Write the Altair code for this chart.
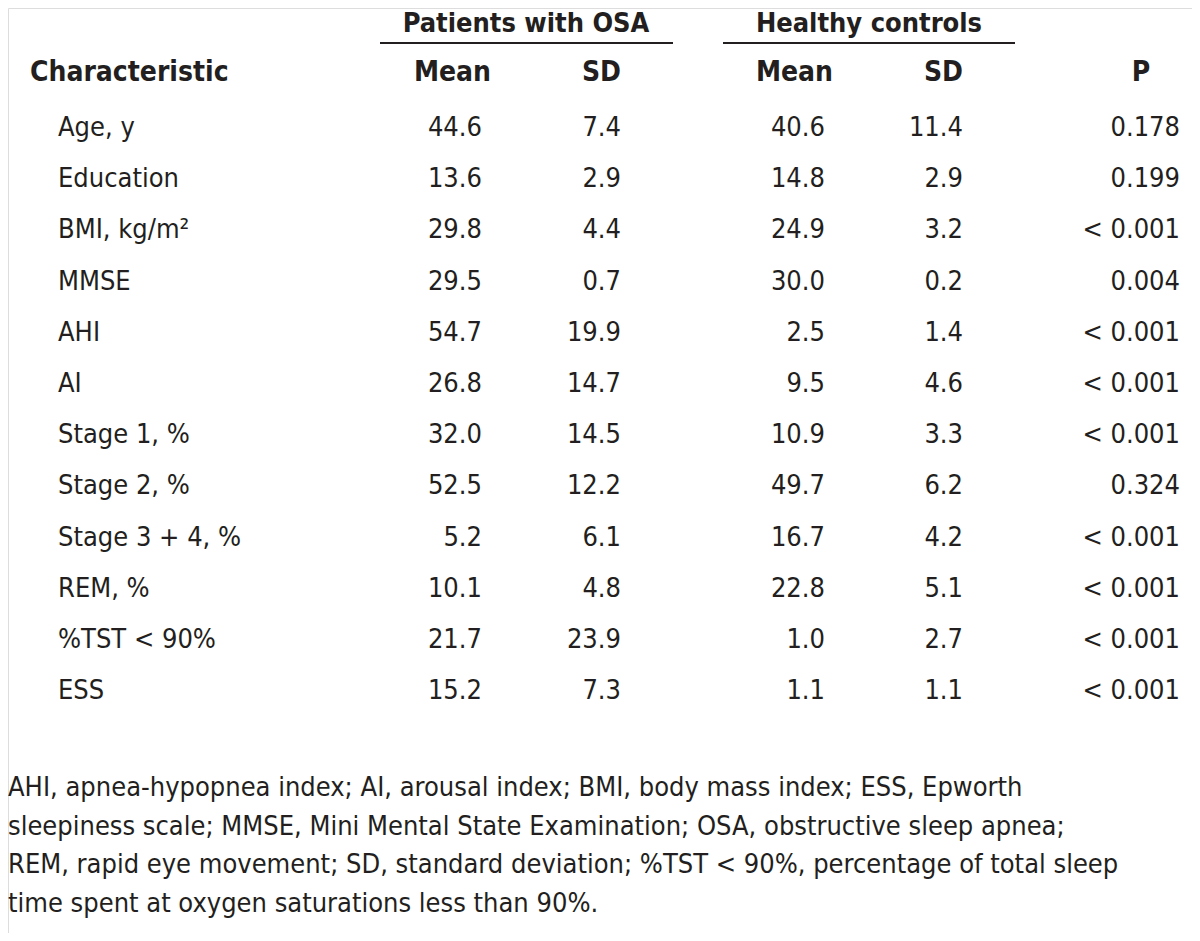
import altair as alt
import pandas as pd

characteristics = ["Age, y", "Education", "BMI, kg/m²", "MMSE", "AHI", "AI",
                   "Stage 1, %", "Stage 2, %", "Stage 3 + 4, %", "REM, %",
                   "%TST < 90%", "ESS"]
osa_mean = ["44.6", "13.6", "29.8", "29.5", "54.7", "26.8", "32.0", "52.5", "5.2", "10.1", "21.7", "15.2"]
osa_sd = ["7.4", "2.9", "4.4", "0.7", "19.9", "14.7", "14.5", "12.2", "6.1", "4.8", "23.9", "7.3"]
hc_mean = ["40.6", "14.8", "24.9", "30.0", "2.5", "9.5", "10.9", "49.7", "16.7", "22.8", "1.0", "1.1"]
hc_sd = ["11.4", "2.9", "3.2", "0.2", "1.4", "4.6", "3.3", "6.2", "4.2", "5.1", "2.7", "1.1"]
p_values = ["0.178", "0.199", "< 0.001", "0.004", "< 0.001", "< 0.001", "< 0.001",
            "0.324", "< 0.001", "< 0.001", "< 0.001", "< 0.001"]
group_headers = ["Patients with OSA", "Healthy controls"]
col_headers = ["Characteristic", "Mean", "SD", "Mean", "SD", "P"]
footnote = [
    "AHI, apnea-hypopnea index; AI, arousal index; BMI, body mass index; ESS, Epworth",
    "sleepiness scale; MMSE, Mini Mental State Examination; OSA, obstructive sleep apnea;",
    "REM, rapid eye movement; SD, standard deviation; %TST < 90%, percentage of total sleep",
    "time spent at oxygen saturations less than 90%.",
]

FONT = "DejaVu Sans Condensed"
W, H = 1184, 925
ROW_H = 51.2
TOP = 120  # centre of first data row (chart coords)

# column anchors (chart px) and alignment
col_x = [50, 474, 613, 817, 955, 1172]
col_align = ["left", "right", "right", "right", "right", "right"]
head_x = [22, 483, 613, 825, 955, 1133]
head_align = ["left", "right", "right", "right", "right", "center"]

rows = []
columns = [characteristics, osa_mean, osa_sd, hc_mean, hc_sd, p_values]
for ci, col in enumerate(columns):
    for ri, v in enumerate(col):
        rows.append({"row": ri, "col": ci, "text": v})
body = pd.DataFrame(rows)

header_rows = [{"row": -1.07, "col": ci, "text": t} for ci, t in enumerate(col_headers)]
group_rows = [{"grp": gi, "text": t} for gi, t in enumerate(group_headers)]

yscale = alt.Scale(domain=[-TOP / ROW_H, (H - TOP) / ROW_H], range=[0, H])
layers = []
for ci in range(6):
    d = body[body.col == ci]
    layers.append(
        alt.Chart(d).mark_text(align=col_align[ci], baseline="middle", font=FONT,
                               fontSize=27, color="#231f20")
        .encode(x=alt.value(col_x[ci]),
                y=alt.Y("row:Q", scale=yscale, axis=None),
                text="text:N")
    )
    hd = pd.DataFrame([header_rows[ci]])
    layers.append(
        alt.Chart(hd).mark_text(align=head_align[ci], baseline="middle", font=FONT,
                                fontSize=28, fontWeight="bold", color="#231f20")
        .encode(x=alt.value(head_x[ci]),
                y=alt.Y("row:Q", scale=yscale, axis=None),
                text="text:N")
    )

grp_x = [518, 861]
grp_line = [(372, 665), (715, 1007)]
for gi in range(2):
    gd = pd.DataFrame([group_rows[gi]])
    layers.append(
        alt.Chart(gd).mark_text(align="center", baseline="top", font=FONT,
                                fontSize=27, fontWeight="bold", color="#231f20")
        .encode(x=alt.value(grp_x[gi]), y=alt.value(3), text="text:N")
    )
    layers.append(
        alt.Chart(gd).mark_rule(color="#231f20", strokeWidth=2)
        .encode(x=alt.value(grp_line[gi][0]), x2=alt.value(grp_line[gi][1]),
                y=alt.value(35))
    )

fn = pd.DataFrame({"text": [footnote]})
layers.append(
    alt.Chart(fn).mark_text(align="left", baseline="middle", font=FONT, fontSize=27,
                            lineHeight=38.7, color="#231f20")
    .encode(x=alt.value(0), y=alt.value(780), text="text")
)

chart = alt.layer(*layers).properties(
    width=W, height=H, padding=0, autosize=alt.AutoSizeParams(type="none")
).configure_view(stroke=None).configure(background="white")

chart.save("out.html", embed_options={"renderer": "svg", "actions": False})
